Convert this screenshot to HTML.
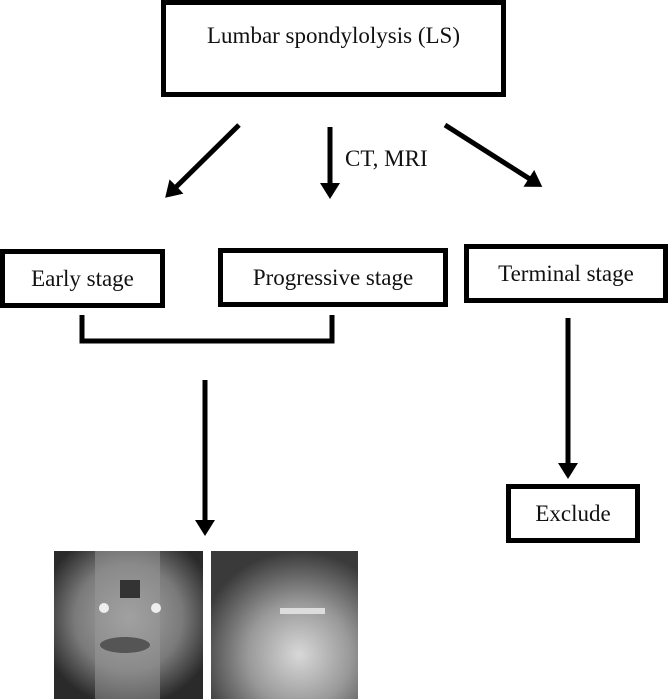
<!DOCTYPE html>
<html><head><style>
body{margin:0;background:#fff;}
.c{position:relative;width:668px;height:699px;overflow:hidden;font-family:"Liberation Serif",serif;}
.b{position:absolute;border:5px solid #000;box-sizing:border-box;display:flex;align-items:center;justify-content:center;font-size:23px;color:#111;background:#fff}
.t{position:absolute;font-size:23px;color:#111;white-space:nowrap}
</style></head><body><div class="c">
<div class="b" style="left:161px;top:0;width:345px;height:97px;align-items:flex-start;padding-top:18px">Lumbar spondylolysis (LS)</div>
<div class="b" style="left:0;top:249px;width:165px;height:59px">Early stage</div>
<div class="b" style="left:218px;top:248px;width:230px;height:59px">Progressive stage</div>
<div class="b" style="left:464px;top:244px;width:204px;height:59px">Terminal stage</div>
<div class="b" style="left:506px;top:484px;width:134px;height:59px">Exclude</div>
<div class="t" style="left:345px;top:146px">CT, MRI</div>
<svg width="668" height="699" style="position:absolute;left:0;top:0">
<defs><marker id="a" markerWidth="4" markerHeight="4" refX="1" refY="2" orient="auto" markerUnits="strokeWidth"><path d="M0,0 L3.2,2 L0,4Z" fill="#000"/></marker></defs>
<g stroke="#000" stroke-width="5" fill="none">
<line x1="239" y1="125" x2="173" y2="190" marker-end="url(#a)"/>
<line x1="330" y1="127" x2="330" y2="188" marker-end="url(#a)"/>
<line x1="445" y1="125" x2="533" y2="181" marker-end="url(#a)"/>
<path d="M82,315 V341 H332 V315"/>
<line x1="205" y1="380" x2="205" y2="525" marker-end="url(#a)"/>
<line x1="568" y1="318" x2="568" y2="468" marker-end="url(#a)"/>
</g>
<defs>
<radialGradient id="g1" cx="0.5" cy="0.45" r="0.6"><stop offset="0" stop-color="#a8a8a8"/><stop offset="0.6" stop-color="#7a7a7a"/><stop offset="1" stop-color="#2a2a2a"/></radialGradient>
<radialGradient id="g2" cx="0.6" cy="0.7" r="0.7"><stop offset="0" stop-color="#d8d8d8"/><stop offset="0.5" stop-color="#999"/><stop offset="1" stop-color="#3a3a3a"/></radialGradient>
</defs>
<rect x="54" y="551" width="149" height="148" fill="url(#g1)"/>
<rect x="95" y="551" width="65" height="148" fill="#9a9a9a" opacity="0.5"/>
<rect x="120" y="580" width="20" height="18" fill="#333"/>
<circle cx="104" cy="608" r="5" fill="#eee"/><circle cx="156" cy="608" r="5" fill="#eee"/>
<ellipse cx="125" cy="645" rx="25" ry="8" fill="#555"/>
<rect x="211" y="551" width="147" height="148" fill="url(#g2)"/>
<rect x="280" y="608" width="45" height="6" fill="#ddd"/>
</svg>
</div></body></html>
